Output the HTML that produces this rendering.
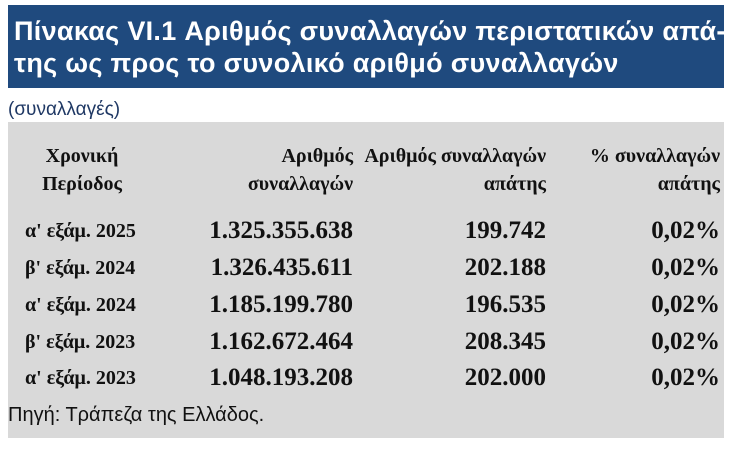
<!DOCTYPE html>
<html><head><meta charset="utf-8"><style>
body{margin:0;width:732px;height:458px;background:#fff;position:relative;overflow:hidden}
.t{position:absolute;white-space:nowrap}
.hd{position:absolute;left:8px;top:5px;width:716px;height:83px;background:#1f4a7e}
.ti{font-family:"Liberation Sans",sans-serif;font-weight:bold;color:#fff;font-size:27px;letter-spacing:0.3px;left:14px}
.g{position:absolute;left:8px;top:122px;width:716px;height:316px;background:#d9d9d9}
.s{font-family:"Liberation Serif",serif;font-weight:bold;color:#111}
.h{font-size:20px}
.p{font-size:20px}
.n{font-size:25px}
.r{text-align:right}
</style></head><body>
<div class="hd"></div>
<div class="t ti" style="top:16px">Πίνακας VI.1 Αριθμός συναλλαγών περιστατικών απά-</div>
<div class="t ti" style="top:48px">της ως προς το συνολικό αριθμό συναλλαγών</div>
<div class="t" style="left:8px;top:99px;font-family:'Liberation Sans',sans-serif;font-size:19px;color:#1f3864">(συναλλαγές)</div>
<div class="g"></div>
<div class="t s h" style="left:22px;width:120px;text-align:center;top:145px">Χρονική</div>
<div class="t s h" style="left:22px;width:120px;text-align:center;top:173px">Περίοδος</div>
<div class="t s h r" style="right:379px;top:145px">Αριθμός</div>
<div class="t s h r" style="right:379px;top:173px">συναλλαγών</div>
<div class="t s h r" style="right:186px;top:145px">Αριθμός συναλλαγών</div>
<div class="t s h r" style="right:186px;top:173px">απάτης</div>
<div class="t s h r" style="right:12px;top:145px">% συναλλαγών</div>
<div class="t s h r" style="right:12px;top:173px">απάτης</div>

<div class="t s p" style="left:25px;top:220px">α' εξάμ. 2025</div>
<div class="t s n r" style="right:379px;top:217px">1.325.355.638</div>
<div class="t s n r" style="right:186px;top:217px">199.742</div>
<div class="t s n r" style="right:12px;top:217px">0,02%</div>

<div class="t s p" style="left:25px;top:257px">β' εξάμ. 2024</div>
<div class="t s n r" style="right:379px;top:254px">1.326.435.611</div>
<div class="t s n r" style="right:186px;top:254px">202.188</div>
<div class="t s n r" style="right:12px;top:254px">0,02%</div>

<div class="t s p" style="left:25px;top:294px">α' εξάμ. 2024</div>
<div class="t s n r" style="right:379px;top:291px">1.185.199.780</div>
<div class="t s n r" style="right:186px;top:291px">196.535</div>
<div class="t s n r" style="right:12px;top:291px">0,02%</div>

<div class="t s p" style="left:25px;top:331px">β' εξάμ. 2023</div>
<div class="t s n r" style="right:379px;top:328px">1.162.672.464</div>
<div class="t s n r" style="right:186px;top:328px">208.345</div>
<div class="t s n r" style="right:12px;top:328px">0,02%</div>

<div class="t s p" style="left:25px;top:367px">α' εξάμ. 2023</div>
<div class="t s n r" style="right:379px;top:364px">1.048.193.208</div>
<div class="t s n r" style="right:186px;top:364px">202.000</div>
<div class="t s n r" style="right:12px;top:364px">0,02%</div>

<div class="t" style="left:8px;top:404px;font-family:'Liberation Sans',sans-serif;font-size:20px;color:#111">Πηγή: Τράπεζα της Ελλάδος.</div>
</body></html>
